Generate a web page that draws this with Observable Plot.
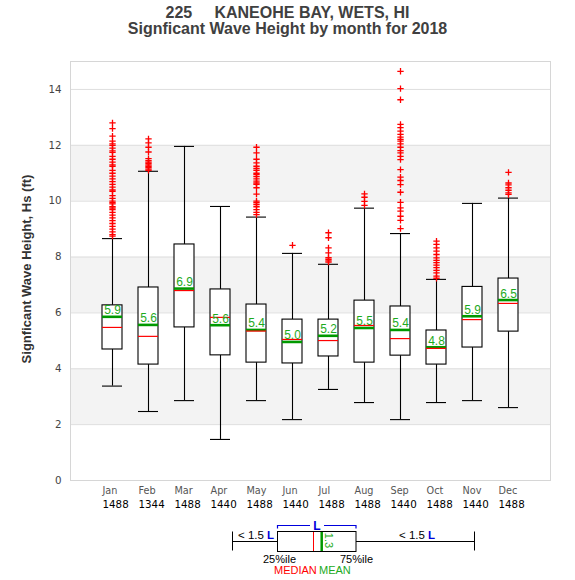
<!DOCTYPE html>
<html>
<head>
<meta charset="utf-8">
<script src="https://cdn.jsdelivr.net/npm/d3@7"></script>
<script src="https://cdn.jsdelivr.net/npm/@observablehq/plot@0.6"></script>
<style>
  body { margin: 0; background: #fff; }
  #wrap { position: relative; width: 575px; height: 580px; }
  #title { width: 575px; height: 50px; padding-top: 5px; box-sizing: border-box;
    font-family: "Liberation Sans", Arial, sans-serif; font-weight: bold; font-size: 16px;
    color: #404040; text-align: center; line-height: 16px; }
  #chart svg, #legend svg { display: block; }
</style>
</head>
<body>
<div id="wrap">
  <div id="title"><div>225&nbsp;&nbsp;&nbsp;&nbsp;&nbsp;KANEOHE BAY, WETS, HI</div><div>Signficant Wave Height by month for 2018</div></div>
  <div id="chart"></div>
  <div id="legend"></div>
</div>
<script>
const months = ["Jan","Feb","Mar","Apr","May","Jun","Jul","Aug","Sep","Oct","Nov","Dec"];
const counts = [1488,1344,1488,1440,1488,1440,1488,1488,1440,1488,1440,1488];
const whiskerLow  = [3.38,2.47,2.86,1.47,2.86,2.18,3.26,2.79,2.18,2.79,2.86,2.61];
const q1          = [4.69,4.15,5.48,4.48,4.22,4.19,4.44,4.22,4.47,4.15,4.76,5.33];
const medians     = [5.48,5.16,6.80,5.84,5.35,5.05,5.01,5.55,5.08,4.73,5.76,6.34];
const means       = [5.86,5.57,6.87,5.56,5.39,4.96,5.18,5.46,5.39,4.77,5.88,6.46];
const q3          = [6.27,6.91,8.45,6.84,6.30,5.76,5.76,6.44,6.23,5.37,6.93,7.23];
const whiskerHigh = [8.66,11.07,11.96,9.81,9.43,8.13,7.74,9.75,8.84,7.20,9.92,10.11];
const outliersJan = [12.80,12.60,12.33,12.15,12.05,12.0,11.9,11.8,11.75,11.6,11.5,11.4,11.3,11.25,11.1,11.0,10.9,10.8,10.7,10.6,10.5,10.4,10.35,10.2,10.1,10.0,9.95,9.9,9.8,9.75,9.7,9.6,9.5,9.4,9.3,9.2,9.1,9.0,8.9,8.8,8.75];
const outliersFeb = [12.23,12.09,11.93,11.76,11.52,11.45,11.4,11.35,11.3,11.25,11.2,11.15,11.1];
const outliersMar = [];
const outliersApr = [];
const outliersMay = [11.93,11.73,11.5,11.37,11.25,11.17,11.1,11.0,10.95,10.88,10.8,10.72,10.65,10.6,10.48,10.25,10.0,9.95,9.88,9.8,9.7,9.6,9.52];
const outliersJun = [8.42];
const outliersJul = [8.87,8.69,8.33,8.15,7.98,7.92,7.86,7.82];
const outliersAug = [10.26,10.14,9.99,9.85];
const outliersSep = [14.65,14.03,13.63,12.75,12.63,12.51,12.39,12.29,12.21,12.15,12.05,11.93,11.81,11.73,11.6,11.49,11.13,10.86,10.74,10.59,10.32,9.96,9.76,9.64,9.46,9.31,9.02];
const outliersOct = [8.57,8.45,8.33,8.21,8.09,7.97,7.88,7.80,7.71,7.62,7.52,7.43,7.32,7.24];
const outliersNov = [];
const outliersDec = [11.03,10.65,10.58,10.48,10.39,10.30,10.24];
const yTicks = [0,2,4,6,8,10,12,14];
const yLabel = "Signficant Wave Height, Hs (ft)";

const outlierLists = [outliersJan,outliersFeb,outliersMar,outliersApr,outliersMay,outliersJun,
  outliersJul,outliersAug,outliersSep,outliersOct,outliersNov,outliersDec];

const stats = months.map((m, i) => ({
  month: m, count: counts[i], low: whiskerLow[i], q1: q1[i], median: medians[i],
  mean: means[i], q3: q3[i], high: whiskerHigh[i]
}));
const outlierRows = outlierLists.flatMap((list, i) => list.map(v => ({month: months[i], value: v})));
const bands = yTicks.filter((t, i) => i % 2 === 1 && i < yTicks.length - 1).map(t => ({y1: t, y2: t + 2}));
const fmt = d3.format(".1f");

const chart = Plot.plot({
  width: 575,
  height: 470,
  marginLeft: 70,
  marginRight: 25,
  marginTop: 11,
  marginBottom: 40,
  style: {fontFamily: "'DejaVu Sans', sans-serif", fontSize: "10px", background: "white"},
  x: {type: "band", domain: months, paddingInner: 0.4583, paddingOuter: 0.729, axis: null},
  y: {domain: [0, 15], axis: null},
  marks: [
    Plot.rect(bands, {y1: "y1", y2: "y2", fill: "#f3f3f3"}),
    Plot.ruleY(yTicks.slice(1), {stroke: "#dedede", strokeWidth: 1}),
    Plot.frame({stroke: "#d6d6d6"}),
    Plot.ruleX(stats, {x: "month", y1: "low", y2: "q1", stroke: "black", strokeWidth: 1.1}),
    Plot.ruleX(stats, {x: "month", y1: "q3", y2: "high", stroke: "black", strokeWidth: 1.1}),
    Plot.tickY(stats, {x: "month", y: "low", stroke: "black", strokeWidth: 1.1}),
    Plot.tickY(stats, {x: "month", y: "high", stroke: "black", strokeWidth: 1.1}),
    Plot.barY(stats, {x: "month", y1: "q1", y2: "q3", fill: "white", stroke: "black", strokeWidth: 1.1}),
    Plot.tickY(stats, {x: "month", y: "mean", stroke: "#009900", strokeWidth: 2.6}),
    Plot.tickY(stats, {x: "month", y: "median", stroke: "#ff0000", strokeWidth: 1.2}),
    Plot.text(stats, {x: "month", y: "mean", text: d => fmt(d.mean), dy: -2.5, lineAnchor: "bottom",
      fill: "#1eaa1e", fontSize: 12, fontFamily: "'Liberation Sans', Arial, sans-serif"}),
    Plot.dot(outlierRows, {x: "month", y: "value", symbol: "plus", stroke: "#ff0000", r: 2.2, strokeWidth: 1.3}),
    Plot.text(stats, {x: "month", text: "month", frameAnchor: "bottom", dx: -10, dy: 13,
      textAnchor: "start", fill: "#555", fontSize: 9.7}),
    Plot.text(stats, {x: "month", text: d => String(d.count), frameAnchor: "bottom", dx: -10, dy: 27.7,
      textAnchor: "start", fill: "black", fontSize: 10.3}),
    Plot.axisY({ticks: yTicks, tickSize: 0, tickPadding: 9, label: null, fill: "#444", fontSize: 10.3}),
    Plot.text([yLabel], {frameAnchor: "left", dx: -44, dy: -2, rotate: -90, textAnchor: "middle",
      lineAnchor: "middle", fill: "#333", fontSize: 13, fontWeight: "bold",
      fontFamily: "'Liberation Sans', Arial, sans-serif"})
  ]
});
document.getElementById("chart").appendChild(chart);

// Legend (schematic box plot key)
const lg = d3.select("#legend").append("svg").attr("width", 575).attr("height", 60)
  .style("font-family", "'Liberation Sans', Arial, sans-serif");
const blue = "#0000dd";
lg.append("line").attr("x1", 232.5).attr("x2", 232.5).attr("y1", 11.5).attr("y2", 30.5).attr("stroke", "black");
lg.append("line").attr("x1", 474.5).attr("x2", 474.5).attr("y1", 11.5).attr("y2", 30.5).attr("stroke", "black");
lg.append("line").attr("x1", 232.5).attr("x2", 277.5).attr("y1", 21.5).attr("y2", 21.5).attr("stroke", "black");
lg.append("line").attr("x1", 356).attr("x2", 474.5).attr("y1", 21.5).attr("y2", 21.5).attr("stroke", "black");
lg.append("rect").attr("x", 277.5).attr("y", 11.5).attr("width", 78.5).attr("height", 20)
  .attr("fill", "white").attr("stroke", "black");
lg.append("line").attr("x1", 313.5).attr("x2", 313.5).attr("y1", 12).attr("y2", 31).attr("stroke", "#ff0000");
lg.append("line").attr("x1", 321.7).attr("x2", 321.7).attr("y1", 12).attr("y2", 31).attr("stroke", "#009900").attr("stroke-width", 2.5);
lg.append("text").attr("transform", "translate(325,20.5) rotate(90)").attr("text-anchor", "middle")
  .attr("font-size", 11).attr("fill", "#22aa22").text("1.3");
lg.append("path").attr("d", "M277.5,8.5V5.5H310M324,5.5H356V8.5").attr("fill", "none").attr("stroke", blue).attr("stroke-width", 1.2);
lg.append("text").attr("x", 317).attr("y", 9.5).attr("text-anchor", "middle").attr("font-size", 12)
  .attr("font-weight", "bold").attr("fill", blue).text("L");
function lt(x) {
  const t = lg.append("text").attr("x", x).attr("y", 19).attr("font-size", 11.5).attr("fill", "black");
  t.append("tspan").text("< 1.5 ");
  t.append("tspan").attr("fill", blue).attr("font-weight", "bold").text("L");
}
lt(238); lt(399);
lg.append("text").attr("x", 263).attr("y", 43).attr("font-size", 11).text("25%ile");
lg.append("text").attr("x", 340).attr("y", 43).attr("font-size", 11).text("75%ile");
lg.append("text").attr("x", 274).attr("y", 53.5).attr("font-size", 11).attr("fill", "#ff0000").text("MEDIAN");
lg.append("text").attr("x", 319).attr("y", 53.5).attr("font-size", 11).attr("fill", "#22aa22").text("MEAN");
</script>
</body>
</html>
